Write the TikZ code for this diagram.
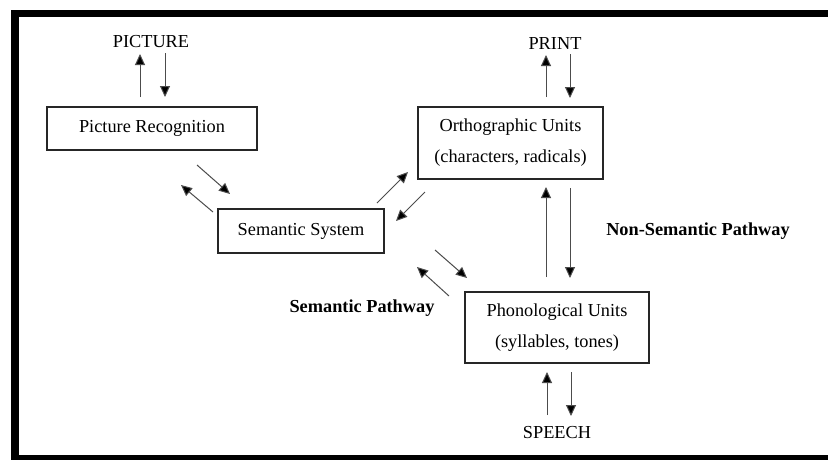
\documentclass[tikz,border=0pt]{standalone}
\usepackage{fontspec}
\setmainfont{Liberation Serif}
\usetikzlibrary{arrows.meta}
\begin{document}
\begin{tikzpicture}[x=1pt,y=-1pt,
  unitbox/.style={draw=black!85,line width=1.3pt,minimum width=#1,inner sep=0pt,
    align=center,font=\fontsize{18.3}{31}\selectfont},
  lbl/.style={font=\fontsize{18.3}{20}\selectfont,inner sep=0pt},
  pathlbl/.style={font=\fontsize{18.3}{20}\selectfont\bfseries,inner sep=0pt},
  flow/.style={draw=black!70,line width=1pt,-{Triangle[length=11pt,width=10pt,fill=black]}}]
\useasboundingbox (0,0) rectangle (828,459);
\clip (0,0) rectangle (828,459);
\fill[white] (0,0) rectangle (828,459);
% outer frame (left, top and bottom rules)
\draw[line width=7.5pt] (830,13.5) -- (15,13.5) -- (15,458.5) -- (830,458.5);

% boxes
\node[unitbox=210pt,minimum height=43pt] (pr) at (152,128.5) {Picture Recognition};
\node[unitbox=185pt,minimum height=72pt] (ortho) at (510.5,143) {Orthographic Units\\(characters, radicals)};
\node[unitbox=166pt,minimum height=44pt] (sem) at (301,231) {Semantic System};
\node[unitbox=184pt,minimum height=71pt] (phon) at (557,327.5) {Phonological Units\\(syllables, tones)};

% input / output labels
\node[lbl] (picture) at (151,42) {PICTURE};
\node[lbl] (print) at (555,44) {PRINT};
\node[lbl] (speech) at (557,433) {SPEECH};

% pathway labels
\node[pathlbl] (semp) at (362,308) {Semantic Pathway};
\node[pathlbl] (nsemp) at (698,231) {Non-Semantic Pathway};

% arrow end points
\coordinate (a1) at (140,97);  \coordinate (a2) at (140,54);
\coordinate (b1) at (165,53);  \coordinate (b2) at (165,97);
\coordinate (c1) at (546,97);  \coordinate (c2) at (546,55);
\coordinate (d1) at (570,54);  \coordinate (d2) at (570,98);
\coordinate (e1) at (547,415); \coordinate (e2) at (547,372);
\coordinate (f1) at (571,372); \coordinate (f2) at (571,416);
\coordinate (g1) at (546,277); \coordinate (g2) at (546,187);
\coordinate (h1) at (570,188); \coordinate (h2) at (570,278);
\coordinate (i1) at (197,165); \coordinate (i2) at (230,194);
\coordinate (j1) at (213,212); \coordinate (j2) at (181,185);
\coordinate (k1) at (377,203); \coordinate (k2) at (408,172);
\coordinate (l1) at (425,192); \coordinate (l2) at (396,221);
\coordinate (m1) at (435,250); \coordinate (m2) at (467,278);
\coordinate (n1) at (449,296); \coordinate (n2) at (417,267);

\foreach \s/\t in {a1/a2,b1/b2,c1/c2,d1/d2,e1/e2,f1/f2,g1/g2,h1/h2,
                   i1/i2,j1/j2,k1/k2,l1/l2,m1/m2,n1/n2}
  \draw[flow] (\s) -- (\t);
\end{tikzpicture}
\end{document}
